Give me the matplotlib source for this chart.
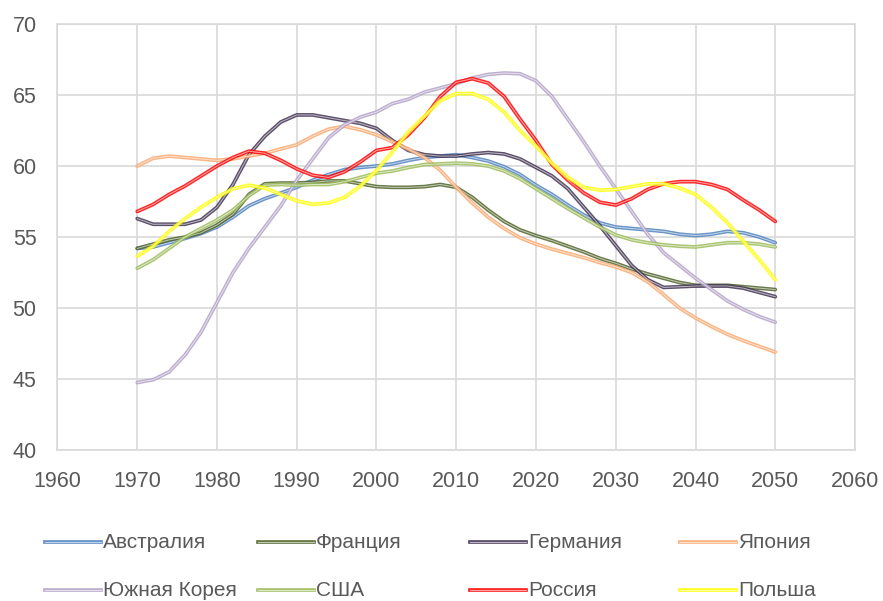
import matplotlib
matplotlib.use("Agg")
import matplotlib.pyplot as plt
from matplotlib.lines import Line2D

plt.rcParams["font.family"] = ["Liberation Sans", "DejaVu Sans"]

years = list(range(1970, 2051, 2))

australia = [54.2, 54.3, 54.6, 54.9, 55.25, 55.7, 56.4, 57.2, 57.7, 58.1, 58.5, 59.0, 59.4, 59.75,
             59.9, 60.0, 60.15, 60.4, 60.6, 60.7, 60.8, 60.6, 60.35, 59.95, 59.4, 58.65, 58.0, 57.25,
             56.55, 56.0, 55.7, 55.6, 55.5, 55.4, 55.2, 55.1, 55.2, 55.4, 55.3, 55.0, 54.6]
france = [54.2, 54.5, 54.8, 55.0, 55.3, 55.85, 56.6, 58.0, 58.75, 58.8, 58.8, 58.85, 58.95, 58.95,
          58.75, 58.55, 58.5, 58.5, 58.55, 58.7, 58.5, 57.8, 56.9, 56.1, 55.5, 55.1, 54.75, 54.35,
          53.95, 53.5, 53.15, 52.75, 52.4, 52.1, 51.8, 51.6, 51.6, 51.6, 51.5, 51.4, 51.3]
germany = [56.3, 55.9, 55.9, 55.9, 56.2, 57.1, 58.7, 60.8, 62.1, 63.1, 63.6, 63.6, 63.4, 63.2,
           63.0, 62.65, 61.8, 61.1, 60.8, 60.7, 60.7, 60.85, 60.95, 60.85, 60.5, 59.9, 59.3, 58.4,
           57.1, 55.8, 54.4, 53.0, 52.0, 51.45, 51.5, 51.55, 51.55, 51.55, 51.4, 51.1, 50.8]
japan = [60.0, 60.55, 60.7, 60.6, 60.5, 60.4, 60.5, 60.7, 60.9, 61.2, 61.5, 62.1, 62.6, 62.8,
         62.55, 62.2, 61.7, 61.2, 60.6, 59.7, 58.5, 57.4, 56.4, 55.6, 54.95, 54.5, 54.15, 53.85,
         53.55, 53.2, 52.9, 52.5, 51.85, 50.95, 50.0, 49.3, 48.7, 48.15, 47.7, 47.3, 46.9]
korea = [44.75, 44.95, 45.5, 46.7, 48.3, 50.4, 52.5, 54.2, 55.7, 57.2, 59.0, 60.5, 62.0, 62.9,
         63.45, 63.8, 64.4, 64.7, 65.2, 65.5, 65.8, 66.2, 66.45, 66.55, 66.5, 66.0, 64.9, 63.3,
         61.7, 60.0, 58.4, 56.8, 55.2, 53.9, 53.0, 52.1, 51.3, 50.5, 49.9, 49.4, 49.0]
usa = [52.8, 53.4, 54.2, 55.0, 55.6, 56.2, 56.9, 57.9, 58.65, 58.7, 58.65, 58.7, 58.7, 58.9,
       59.2, 59.5, 59.65, 59.9, 60.1, 60.15, 60.2, 60.15, 60.0, 59.65, 59.1, 58.4, 57.7, 57.0,
       56.35, 55.7, 55.15, 54.8, 54.6, 54.45, 54.35, 54.3, 54.45, 54.6, 54.6, 54.5, 54.3]
russia = [56.8, 57.3, 58.0, 58.6, 59.3, 60.0, 60.6, 61.05, 60.9, 60.4, 59.8, 59.35, 59.2, 59.6,
          60.3, 61.1, 61.3, 62.2, 63.4, 64.9, 65.9, 66.15, 65.85, 64.9, 63.3, 61.8, 60.1, 59.0,
          58.1, 57.45, 57.25, 57.7, 58.35, 58.75, 58.9, 58.9, 58.7, 58.35, 57.6, 56.9, 56.1]
poland = [53.65, 54.35, 55.4, 56.3, 57.1, 57.8, 58.4, 58.65, 58.45, 58.0, 57.55, 57.3, 57.4, 57.8,
          58.6, 59.7, 61.0, 62.4, 63.5, 64.6, 65.1, 65.1, 64.7, 63.8, 62.5, 61.4, 60.2, 59.2,
          58.5, 58.3, 58.35, 58.55, 58.75, 58.75, 58.45, 58.0, 57.1, 56.0, 54.7, 53.4, 52.0]

labels = ["Австралия", "Франция", "Германия", "Япония",
          "Южная Корея", "США", "Россия", "Польша"]
series = [australia, france, germany, japan, korea, usa, russia, poland]
colors = ["#4F81BD", "#4F6228", "#403151", "#F9A86E",
          "#B3A2C7", "#9BBB59", "#FF0000", "#FFFF00"]

grid_color = "#D9D9D9"
text_color = "#595959"

fig = plt.figure(figsize=(8.83, 6.01), dpi=100)
ax = fig.add_axes([0.0651, 0.2512, 0.9032, 0.7088])

for values, color in zip(series, colors):
    # Excel "double" line: coloured outline with a thin light core
    ax.plot(years, values, color=color, lw=2.7, alpha=0.85, solid_capstyle="round",
            solid_joinstyle="round", zorder=3)
    ax.plot(years, values, color="white", lw=0.7, alpha=0.6, solid_joinstyle="round", zorder=3)

ax.set_xlim(1960, 2060)
ax.set_ylim(40, 70)
ax.set_xticks(range(1960, 2061, 10))
ax.set_yticks(range(40, 71, 5))
ax.grid(True, color=grid_color, lw=1.2)
ax.set_axisbelow(True)
for sp in ax.spines.values():
    sp.set_color(grid_color)
    sp.set_linewidth(1.2)
ax.tick_params(length=0, labelsize=15.5, labelcolor=text_color)
ax.tick_params(axis="y", pad=15)
ax.tick_params(axis="x", pad=15)

# legend drawn as an Excel-style grid of equal-width columns
col_x = [45, 258, 470, 680]
row_y = [542, 590]
W, H = 883, 601
for i, (label, color) in enumerate(zip(labels, colors)):
    cx = col_x[i % 4]
    cy = row_y[i // 4]
    y = 1 - cy / H
    fig.add_artist(Line2D([cx / W, (cx + 56) / W], [y, y], color=color, lw=2.7, alpha=0.85,
                          transform=fig.transFigure))
    fig.add_artist(Line2D([cx / W, (cx + 56) / W], [y, y], color="white", lw=0.7, alpha=0.6,
                          transform=fig.transFigure))
    fig.text((cx + 58) / W, y, label, ha="left", va="center", fontsize=15,
             color=text_color)

fig.savefig("out.png", dpi=100)
